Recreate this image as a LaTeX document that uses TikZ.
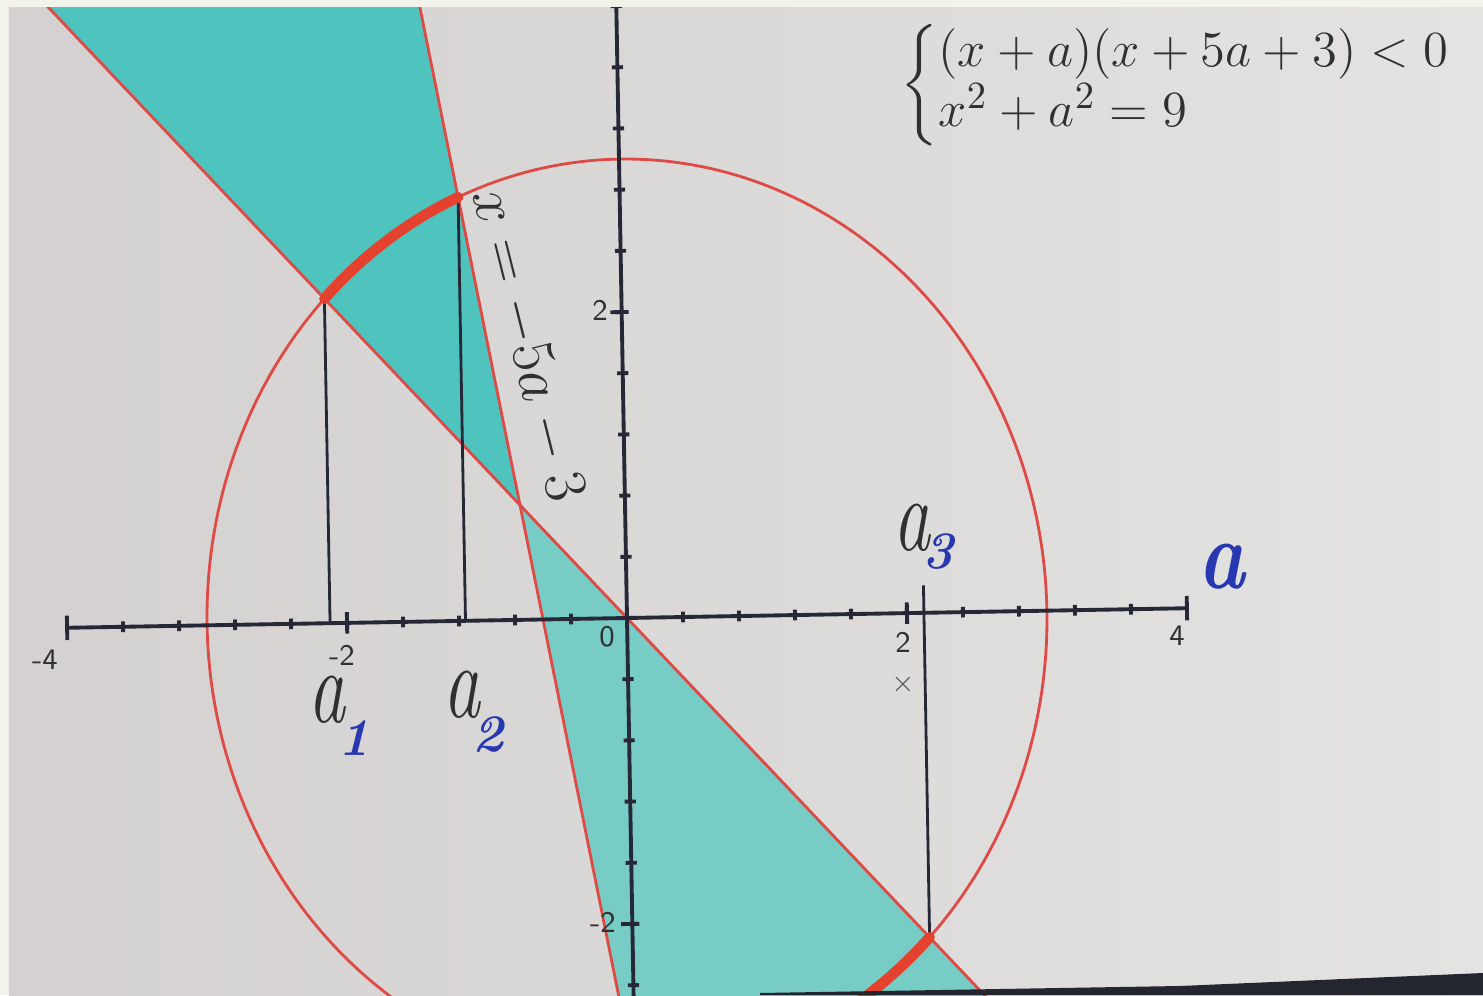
\documentclass[tikz,border=0pt]{standalone}
\usepackage{amsmath}
\usepackage{tikz}
\usetikzlibrary{positioning}
\definecolor{framecol}{HTML}{F2F4EC}
\definecolor{screenL}{HTML}{D4D1D0}
\definecolor{screenR}{HTML}{E3E3E1}
\definecolor{stripcol}{HTML}{23262F}
\definecolor{cyanup}{HTML}{4FC3BE}
\definecolor{cyanlow}{HTML}{78CCC6}
\definecolor{redthin}{HTML}{DE4A45}
\definecolor{redthick}{HTML}{E5412F}
\definecolor{axiscol}{HTML}{262838}
\definecolor{inkcol}{HTML}{303030}
\definecolor{subcol}{HTML}{2838B0}
\tikzset{
  curve/.style={draw=redthin, line width=0.8pt},
  sol/.style={draw=redthick, line width=3pt, line cap=round},
  axisline/.style={draw=axiscol, line width=1.1pt},
  drop/.style={draw=axiscol, line width=0.8pt},
  ticklab/.style={inner sep=0pt, text=inkcol, font=\sffamily\fontsize{8.5}{8.5}\selectfont},
  aname/.style={inner sep=0pt, xscale=0.7, text=inkcol, font=\fontsize{30}{30}\selectfont\itshape},
  asub/.style={inner sep=0pt, text=subcol, font=\fontsize{15}{15}\selectfont\bfseries\itshape}
}

\begin{document}
\begin{tikzpicture}
\useasboundingbox (0,0) rectangle (14.83,9.95);
\fill[framecol] (0,0) rectangle (14.83,9.95);
\shade[left color=screenL, right color=screenR] (0.09,0) rectangle (14.83,9.87);

\begin{scope}
\clip (0.09,0) rectangle (14.83,9.87);
\begin{scope}[shift={(6.27,3.77)}, x=1.40cm, y=1.53cm, rotate=1]
% solution set of the inequality
\fill[cyanup] (-0.75,0.75) -- (-5,5) -- (-1.6,5) -- cycle;
\fill[cyanlow] (-0.75,0.75) -- (3.5,-3.5) -- (0.2,-4) -- cycle;

% the two boundary lines and the circle
\draw[curve] (-4.5,4.5) -- (3.5,-3.5);
\draw[curve] (-1.6,5) -- (0.2,-4);
\draw[curve] plot[domain=0:360, samples=144, smooth] ({3*cos(\x)},{3*sin(\x)});

% axes
\draw[axisline] (-4,0) -- (4,0);
\draw[axisline] (0,-3.5) -- (0,4.5);
\foreach \t in {-3.6,-3.2,...,3.7}
  \draw[axisline] (\t,-0.035) -- (\t,0.035);
\foreach \t in {-2,2}
  \draw[axisline] (\t,-0.07) -- (\t,0.07);
\foreach \t in {-4,4}
  \draw[axisline] (\t,-0.08) -- (\t,0.08);
\foreach \t in {-2.8,-2.4,...,4.2}
  \draw[axisline] (-0.04,\t) -- (0.04,\t);
\foreach \t in {-2,2}
  \draw[axisline] (-0.08,\t) -- (0.05,\t);

% points of the answer
\coordinate (P1) at (-2.1213,2.1213);
\coordinate (F1) at (-2.1213,0);
\coordinate (P2) at (-1.1538,2.7692);
\coordinate (F2) at (-1.1538,0);
\coordinate (P3) at (2.1213,-2.1213);
\coordinate (F3) at (2.1213,0.18);
\draw[drop] (P1) -- (F1);
\draw[drop] (P2) -- (F2);
\draw[drop] (P3) -- (F3);

\draw[sol] plot[domain=112.62:135, samples=20, smooth] ({3*cos(\x)},{3*sin(\x)});
\draw[sol] plot[domain=-100:-45, samples=30, smooth] ({3*cos(\x)},{3*sin(\x)});
\end{scope}
\end{scope}

\fill[stripcol] (7.6,0) -- (7.6,0.02) -- (11.8,0.09) -- (14.83,0.22) -- (14.83,0) -- cycle;

% tick labels
\node[ticklab] (tmfour) at (0.45,3.35) {-4};
\node[ticklab] (tmtwo) at (3.42,3.40) {-2};
\node[ticklab] (tzero) at (6.07,3.58) {0};
\node[ticklab] (ttwo) at (9.03,3.53) {2};
\node[ticklab] (tfour) at (11.77,3.59) {4};
\node[ticklab] (vtwo) at (6.00,6.85) {2};
\node[ticklab] (vmtwo) at (6.03,0.73) {-2};
\node[ticklab, text=inkcol!80] (cross) at (9.03,3.11) {$\times$};

% names of the points
\node[aname] (aone) at (3.27,2.95) {a};
\node[asub] (sone) at (3.54,2.57) {1};
\node[aname] (atwo) at (4.62,3.00) {a};
\node[asub] (stwo) at (4.88,2.60) {2};
\node[aname] (athree) at (9.12,4.67) {a};
\node[asub] (sthree) at (9.38,4.43) {3};
\node[inner sep=0pt, xscale=0.8, text=subcol, font=\fontsize{28}{28}\selectfont\bfseries\itshape] (alab) at (12.22,4.28) {a};

\node[inner sep=0pt, rotate=-76, text=inkcol, font=\fontsize{16}{16}\selectfont] (lineeq) at (5.28,6.50) {$x=-5a-3$};
\node[inner sep=0pt, anchor=west, text=inkcol, font=\fontsize{15}{13.5}\selectfont] (eqsys) at (9.0,9.10)
  {$\begin{cases} (x+a)(x+5a+3)<0\\ x^2+a^2=9 \end{cases}$};
\end{tikzpicture}
\end{document}
